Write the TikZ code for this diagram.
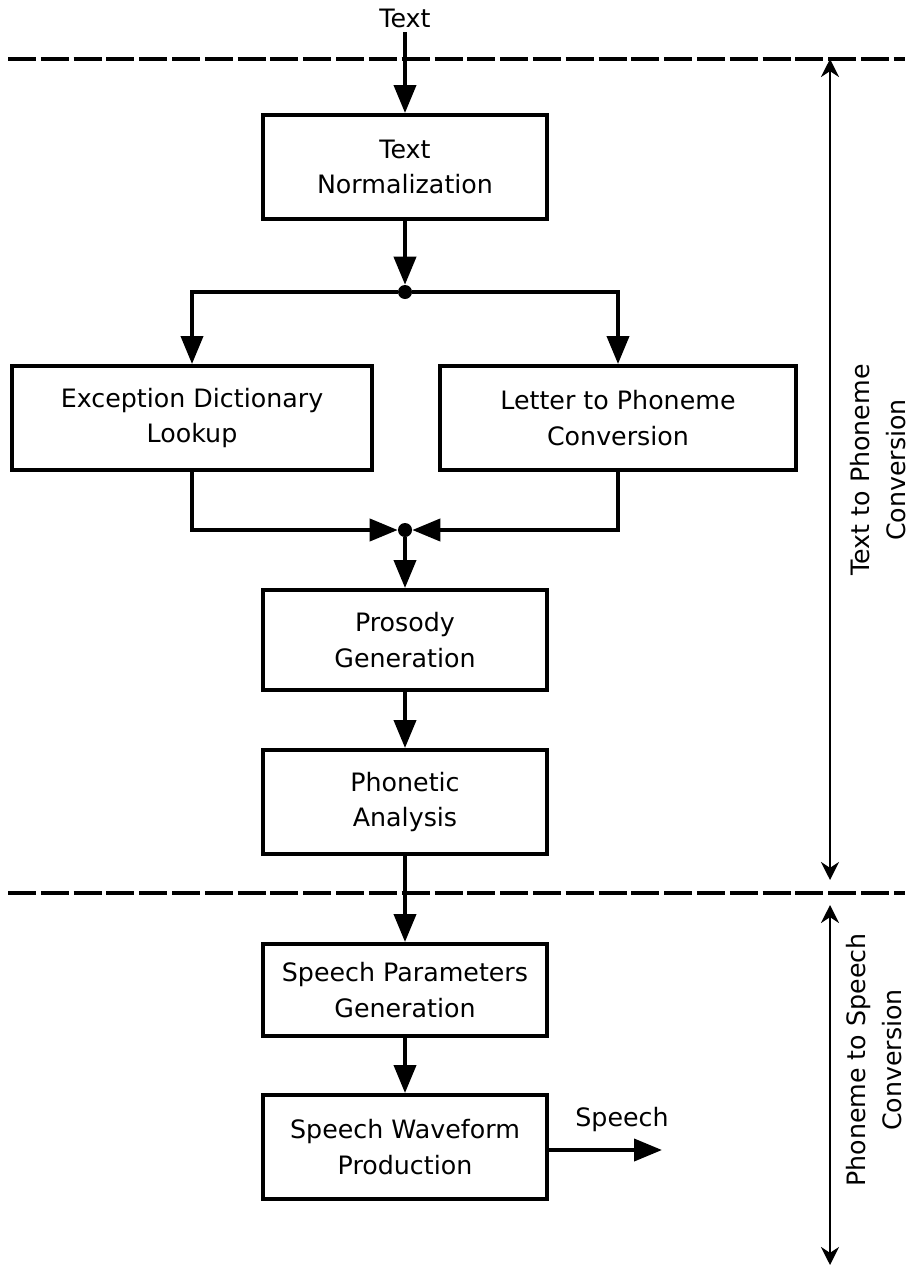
\documentclass[tikz,border=0pt]{standalone}
\usepackage{fontspec}
\setmainfont{DejaVu Sans}
\usetikzlibrary{arrows.meta}

\begin{document}
\begin{tikzpicture}[x=0.025cm,y=-0.025cm,
  font=\fontsize{18}{25}\selectfont,
  box/.style={draw,line width=2.8pt,align=center,minimum width=7.1cm,minimum height=2.6cm,inner sep=2pt},
  arr/.style={line width=2.8pt,-{Triangle[length=0.7cm,width=0.55cm]}},
  dot/.style={circle,fill,inner sep=0pt,minimum size=0.35cm},
  sep/.style={line width=2.2pt,dash pattern=on 0.7cm off 0.12cm},
  dim/.style={line width=1.8pt,{Stealth[length=0.45cm,width=0.45cm]}-{Stealth[length=0.45cm,width=0.45cm]}}]

\useasboundingbox (0,0) rectangle (913,1268);

%\draw[help lines,step=2.5cm] (0,0) grid (913,1268);

% stage separators
\draw[sep] (8,59) -- (905,59);
\draw[sep] (8,893) -- (905,893);

% blocks
\node (txt) at (405,18) {Text};
\node[box] (norm) at (405,167) {Text\\Normalization};
\node[box,minimum width=9cm] (exc) at (192,418) {Exception Dictionary\\Lookup};
\node[box,minimum width=8.9cm] (l2p) at (618,418) {Letter to Phoneme\\Conversion};
\node[box,minimum height=2.5cm] (pros) at (405,640) {Prosody\\Generation};
\node[box] (phon) at (405,802) {Phonetic\\Analysis};
\node[box,minimum height=2.3cm] (spar) at (405,990) {Speech Parameters\\Generation};
\node[box] (wave) at (405,1147) {Speech Waveform\\Production};

\node[dot] (split) at (405,292) {};
\node[dot] (merge) at (405,530) {};
\coordinate (out) at (662,1150);
\node (spk) at (622,1120) {Speech};

% flow
\draw[arr] (txt) -- (norm);
\draw[arr] (norm) -- (split);
\draw[arr] (split) -| (exc.north);
\draw[arr] (split) -| (l2p.north);
\draw[arr] (exc.south) |- (merge);
\draw[arr] (l2p.south) |- (merge);
\draw[arr] (merge) -- (pros);
\draw[arr] (pros) -- (phon);
\draw[arr] (phon) -- (spar);
\draw[arr] (spar) -- (wave);
\draw[arr] (wave.east |- out) -- (out);

% stage extents
\coordinate (a1) at (830,59);
\coordinate (a2) at (830,880);
\coordinate (b1) at (830,905);
\coordinate (b2) at (830,1265);
\draw[dim] (a1) -- (a2);
\draw[dim] (b1) -- (b2);
\node[rotate=90,align=center] at (878,470) {Text to Phoneme\\Conversion};
\node[rotate=90,align=center] at (874,1060) {Phoneme to Speech\\Conversion};

\end{tikzpicture}
\end{document}
